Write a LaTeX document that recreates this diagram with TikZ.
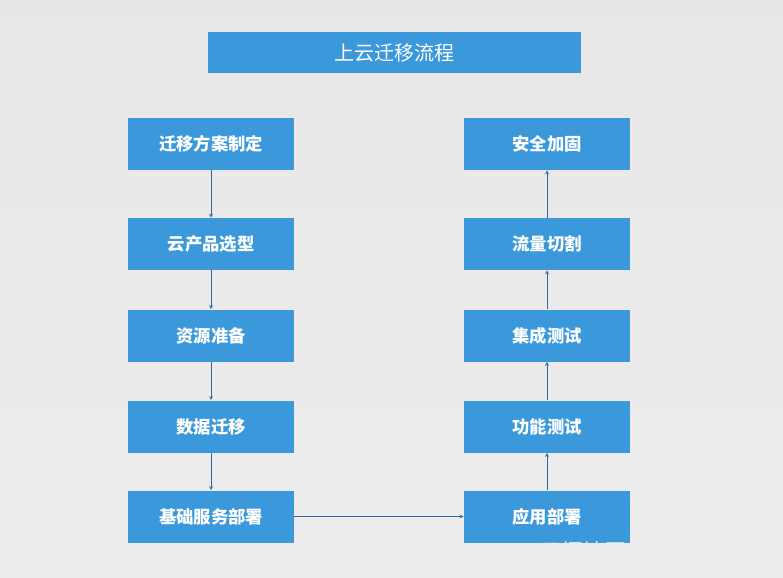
\documentclass[tikz,border=0pt]{standalone}
\usepackage{fontspec}
\setmainfont{Noto Sans CJK SC}
\usetikzlibrary{positioning}
\definecolor{boxblue}{HTML}{3A98DB}
\definecolor{lineblue}{HTML}{2E6A9E}
\tikzset{
  stage/.style={fill=boxblue,text=white,font=\bfseries\fontsize{13}{15}\selectfont,
    minimum width=124.5pt,minimum height=39pt,inner sep=0pt},
  flow/.style={->,>=stealth,draw=lineblue,thin}
}
\begin{document}
\begin{tikzpicture}[x=0.75pt,y=-0.75pt]
\shade[top color=white!80!blue!12!gray!20,bottom color=white!85!blue!10!gray!15] (0,0) rectangle (783,578);
\useasboundingbox (0,0) rectangle (783,578);
\node [fill=boxblue,text=white,font=\fontsize{15}{18}\selectfont,minimum width=280pt,minimum height=31pt,inner sep=0pt] (title) at (394.5,52.5) {上云迁移流程};
\node [stage] (plan) at (211,144) {迁移方案制定};
\node [stage] (select) at (211,244) {云产品选型};
\node [stage] (prep) at (211,335.5) {资源准备};
\node [stage] (data) at (211,426.5) {数据迁移};
\node [stage] (base) at (211,516.5) {基础服务部署};
\node [stage] (app) at (547,516.5) {应用部署};
\node [stage] (func) at (547,426.5) {功能测试};
\node [stage] (integ) at (547,335.5) {集成测试};
\node [stage] (switch) at (547,244) {流量切割};
\node [stage] (secure) at (547,144) {安全加固};
\draw [flow] (plan) -- (select);
\draw [flow] (select) -- (prep);
\draw [flow] (prep) -- (data);
\draw [flow] (data) -- (base);
\draw [flow] (base) -- (app);
\draw [flow] (app) -- (func);
\draw [flow] (func) -- (integ);
\draw [flow] (integ) -- (switch);
\draw [flow] (switch) -- (secure);
\node [text=white!85!gray,font=\fontsize{16}{18}\selectfont,anchor=east] (mark) at (775,553) {云栖社区 yq.aliyun.com};
\end{tikzpicture}
\end{document}
